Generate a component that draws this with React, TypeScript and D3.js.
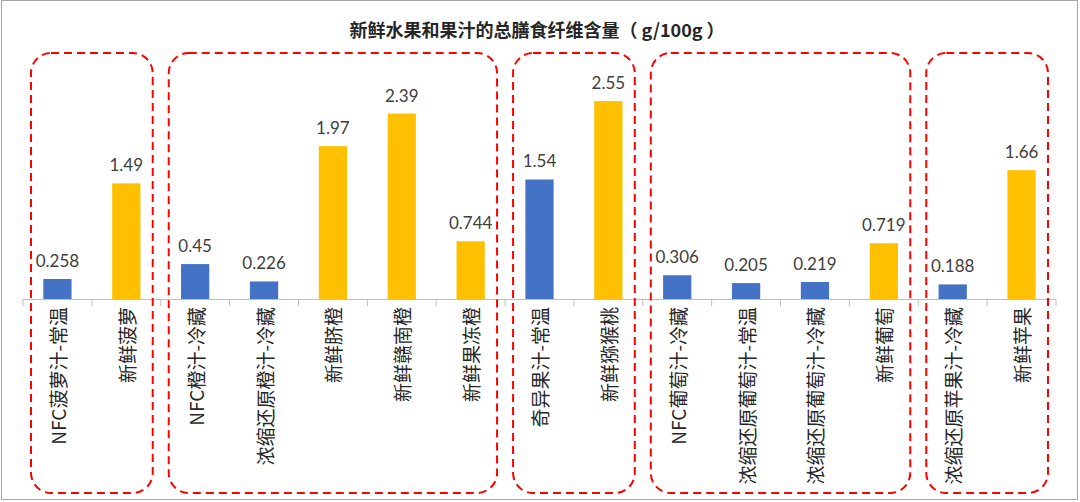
import * as d3 from "d3";
import * as React from "react";

const categories = [
  "NFC菠萝汁-常温",
  "新鲜菠萝",
  "NFC橙汁-冷藏",
  "浓缩还原橙汁-冷藏",
  "新鲜脐橙",
  "新鲜赣南橙",
  "新鲜果冻橙",
  "奇异果汁-常温",
  "新鲜猕猴桃",
  "NFC葡萄汁-冷藏",
  "浓缩还原葡萄汁-常温",
  "浓缩还原葡萄汁-冷藏",
  "新鲜葡萄",
  "浓缩还原苹果汁-冷藏",
  "新鲜苹果",
];
const values = [0.258, 1.49, 0.45, 0.226, 1.97, 2.39, 0.744, 1.54, 2.55, 0.306, 0.205, 0.219, 0.719, 0.188, 1.66];
const valueLabels = ["0.258", "1.49", "0.45", "0.226", "1.97", "2.39", "0.744", "1.54", "2.55", "0.306", "0.205", "0.219", "0.719", "0.188", "1.66"];
// juice vs fresh fruit
const kinds = ["juice", "fresh", "juice", "juice", "fresh", "fresh", "fresh", "juice", "fresh", "juice", "juice", "juice", "fresh", "juice", "fresh"];
// dashed boxes: first and last category index of each fruit group
const groups = [
  [0, 1],
  [2, 6],
  [7, 8],
  [9, 12],
  [13, 14],
];

const title = "新鲜水果和果汁的总膳食纤维含量（ g/100g ）";

export default function App() {
  const width = 1080;
  const height = 502;
  const axisY = 299;
  const left = 23;
  const right = 1056;

  const x = d3.scaleBand<string>().domain(categories).range([left, right]);
  const y = d3.scaleLinear().domain([0, 3]).range([axisY, axisY - 3 * 77.6]);
  const barW = x.bandwidth() * 0.41;
  const color = d3.scaleOrdinal<string, string>().domain(["juice", "fresh"]).range(["#4472C4", "#FFC000"]);

  const tickXs = categories.map((c) => x(c) ?? 0).concat([right]);

  const boxPath = (x0: number, y0: number, x1: number, y1: number, r: number) => {
    const p = d3.path();
    p.moveTo(x0 + r, y0);
    p.lineTo(x1 - r, y0);
    p.arcTo(x1, y0, x1, y0 + r, r);
    p.lineTo(x1, y1 - r);
    p.arcTo(x1, y1, x1 - r, y1, r);
    p.lineTo(x0 + r, y1);
    p.arcTo(x0, y1, x0, y1 - r, r);
    p.lineTo(x0, y0 + r);
    p.arcTo(x0, y0, x0 + r, y0, r);
    p.closePath();
    return p.toString();
  };

  return (
    <svg
      width={width}
      height={height}
      viewBox={`0 0 ${width} ${height}`}
      style={{ position: "absolute", left: 0, top: 0, background: "#fff" }}
    >
      <rect x={1.5} y={0.5} width={1076} height={499} fill="#fff" stroke="#a6a6a6" strokeWidth={1} />
      <text
        x={537}
        y={37}
        textAnchor="middle"
        fontFamily="'Noto Sans CJK SC', sans-serif"
        fontWeight="bold"
        fontSize={18}
        fill="#262626"
      >
        {title}
      </text>

      {categories.map((c, i) => (
        <rect
          key={c}
          x={(x(c) ?? 0) + (x.bandwidth() - barW) / 2}
          y={y(values[i])}
          width={barW}
          height={axisY - y(values[i])}
          fill={color(kinds[i])}
        />
      ))}

      <line x1={left} x2={right} y1={axisY + 0.5} y2={axisY + 0.5} stroke="#bfbfbf" strokeWidth={1} />
      {tickXs.map((tx, i) => (
        <line key={i} x1={tx} x2={tx} y1={axisY} y2={axisY + 7} stroke="#bfbfbf" strokeWidth={1} />
      ))}

      {categories.map((c, i) => (
        <text
          key={c}
          x={(x(c) ?? 0) + x.bandwidth() / 2}
          y={y(values[i]) - 12}
          textAnchor="middle"
          fontFamily="Lato, sans-serif"
          fontSize={17}
          fill="#404040"
        >
          {valueLabels[i]}
        </text>
      ))}

      {categories.map((c) => {
        const cx = (x(c) ?? 0) + x.bandwidth() / 2;
        const ty = axisY + 8;
        return (
          <text
            key={c}
            transform={`translate(${cx},${ty}) rotate(-90)`}
            textAnchor="end"
            dominantBaseline="central"
            fontFamily="'Noto Sans CJK SC', sans-serif"
            fontSize={19}
            fill="#262626"
          >
            {c}
          </text>
        );
      })}

      {groups.map(([a, b], i) => {
        const x0 = (x(categories[a]) ?? 0) + 8;
        const x1 = (x(categories[b]) ?? 0) + x.bandwidth() - 8;
        return (
          <path
            key={i}
            d={boxPath(x0, 53, x1, 493, 20)}
            fill="none"
            stroke="#ff0000"
            strokeWidth={2}
            strokeDasharray="8 5"
          />
        );
      })}
    </svg>
  );
}
